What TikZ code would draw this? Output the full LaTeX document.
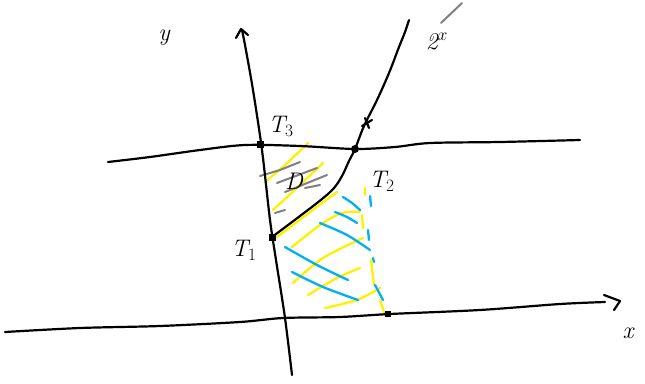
\documentclass[tikz,border=0pt]{standalone}
\begin{document}
\begin{tikzpicture}[x=1pt,y=-1pt,
  ink/.style={line width=2.2pt,line cap=round,line join=round},
  ylw/.style={draw={rgb,255:red,255;green,240;blue,0},line width=2.3pt,line cap=round},
  blu/.style={draw={rgb,255:red,0;green,176;blue,240},line width=2.3pt,line cap=round},
  gry/.style={draw=gray,line width=2pt,line cap=round},
  lbl/.style={font=\fontsize{24}{26}\selectfont\itshape,inner sep=0pt},
  dot/.style={fill=black,minimum size=7pt,inner sep=0pt,rectangle}]
\useasboundingbox (0,0) rectangle (645,383);
% named points
\coordinate (T3) at (260,144);
\coordinate (T2) at (355,149);
\coordinate (T1) at (272,237);
\coordinate (X0) at (388,314);
% yellow hatching
\draw[ylw] plot[smooth] coordinates {(265,182) (285,165) (308,143)};
\draw[ylw] plot[smooth] coordinates {(273,210) (300,185) (323,163)};
\draw[ylw] plot[smooth] coordinates {(277,237) (310,212) (337,192)};
\draw[ylw] plot[smooth] coordinates {(292,247) (320,225) (342,213) (360,212)};
\draw[ylw] plot[smooth] coordinates {(293,283) (323,258) (363,238)};
\draw[ylw] plot[smooth] coordinates {(308,295) (337,278) (360,268)};
\draw[ylw] plot[smooth] coordinates {(325,308) (357,300) (380,288)};
\draw[ylw] (365,188) -- (365,195) (362,215) -- (363,228) (371,260) -- (374,285) (380,300) -- (385,315);
% blue hatching
\draw[blu] plot[smooth] coordinates {(343,197) (352,203) (360,210)};
\draw[blu] plot[smooth] coordinates {(335,212) (347,217) (357,223)};
\draw[blu] plot[smooth] coordinates {(320,223) (347,235) (370,250)};
\draw[blu] plot[smooth] coordinates {(285,247) (317,265) (348,280)};
\draw[blu] plot[smooth] coordinates {(292,272) (323,287) (358,300)};
\draw[blu] (370,196) -- (371,206) (368,230) -- (369,240) (373,258) -- (374,262) (375,285) -- (383,300);
% gray hatching
\draw[gry] (260,176) -- (280,170) -- (300,162);
\draw[gry] (277,183) -- (317,168);
\draw[gry] (285,192) -- (327,175);
\draw[gry] (275,213) -- (285,210);
\draw[gry] (305,188) -- (320,185);
\draw[gry] (441,23) -- (462,3);
% x axis
\draw[ink] plot[smooth] coordinates {(5,332) (80,328) (160,326) (240,322) (283,318) (340,317) (390,314) (480,310) (560,304) (605,302)};
\draw[ink] (604,295) -- (620,301) -- (614,310);
% y axis
\draw[ink] plot[smooth] coordinates {(292,375) (285,318) (276,260) (270,220) (262,150) (253,90) (245,45) (242,30)};
\draw[ink] (236,38) -- (241,29) -- (248,35);
% horizontal line
\draw[ink] plot[smooth] coordinates {(108,162) (150,157) (200,150) (245,145) (300,146) (355,149) (395,147) (430,143) (500,142) (580,140)};
% curve
\draw[ink] plot[smooth,tension=0.6] coordinates {(272,237) (300,216) (322,199) (334,188) (342,176) (349,161) (355,149) (364,126) (377,100) (389,73) (399,47) (405,32) (409,20)};
\draw[ink] (362,126) -- (372,120) (365,118) -- (369,128);
% points
\node[dot] at (T3) {};
\node[dot,circle,minimum size=8pt] at (T2) {};
\node[dot] at (T1) {};
\node[dot,minimum size=6pt] at (X0) {};
% labels
\node[lbl] (ly) at (164,38) {y};
\node[lbl] (lx) at (628,333) {x};
\node[lbl] (l3) at (281,126) {T$_3$};
\node[lbl] (l2) at (382,181) {T$_2$};
\node[lbl] (l1) at (244,250) {T$_1$};
\node[lbl] (lD) at (294,181) {D};
\node[lbl] (lz) at (437,42) {2$^x$};
\end{tikzpicture}
\end{document}
